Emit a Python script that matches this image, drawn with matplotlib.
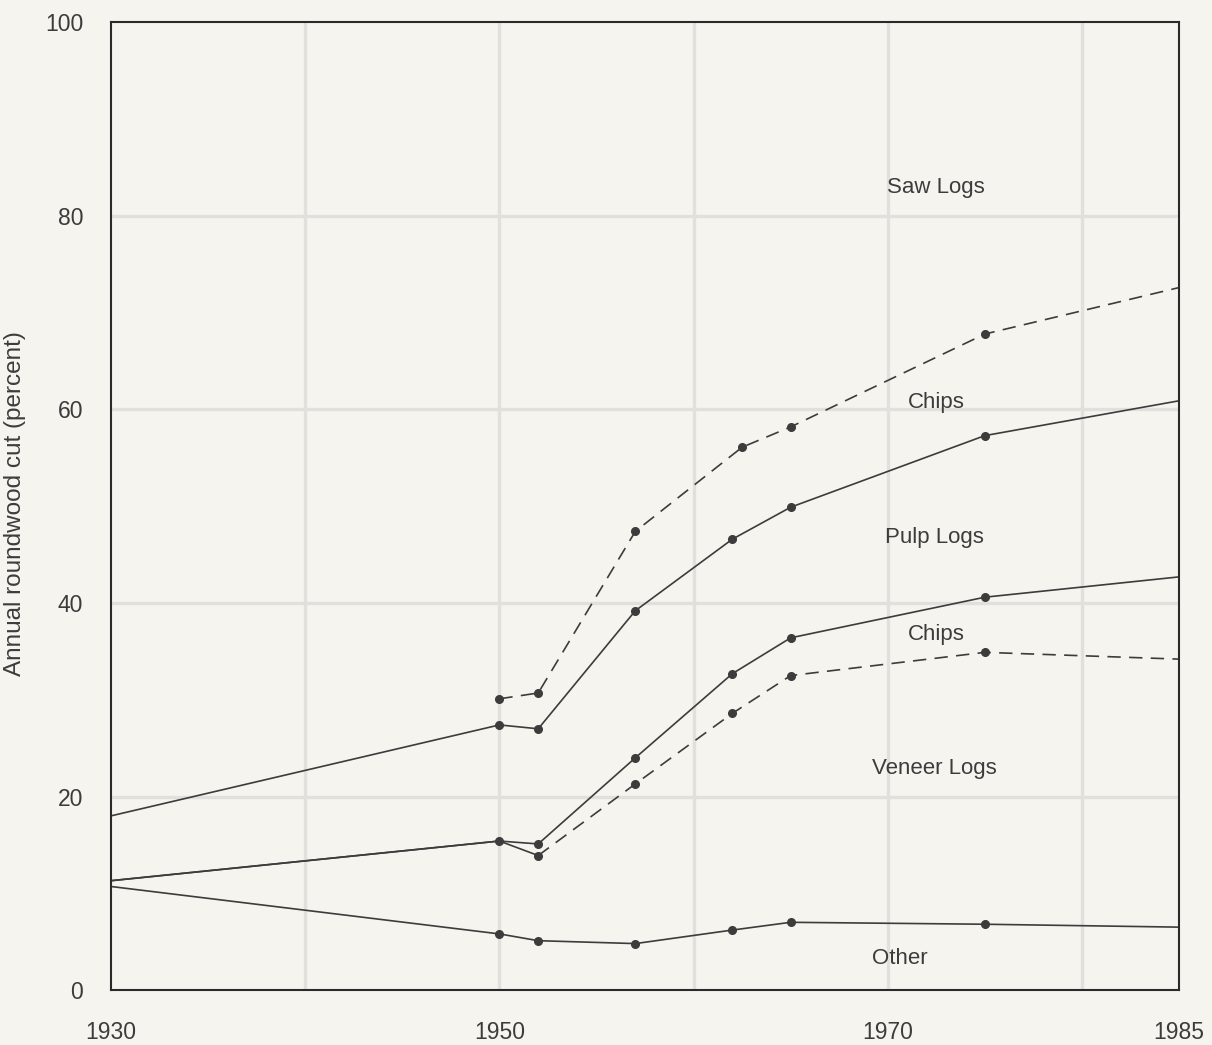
import matplotlib
matplotlib.use("Agg")
import matplotlib.pyplot as plt

# boundaries between the stacked shares (percent of annual roundwood cut)
years = [1930, 1950, 1952, 1957, 1962, 1965, 1975, 1985]
other_top = [10.7, 5.8, 5.1, 4.8, 6.2, 7.0, 6.8, 6.5]
veneer_top = [11.3, 15.4, 13.9, 21.3, 28.6, 32.5, 34.9, 34.2]
chips_low_top = [11.3, 15.4, 15.1, 24.0, 32.7, 36.4, 40.6, 42.7]
pulp_top = [18.0, 27.4, 27.0, 39.2, 46.6, 49.9, 57.3, 60.9]

years_saw = [1950, 1952, 1957, 1962.5, 1965, 1975, 1985]
chips_up_top = [30.1, 30.7, 47.4, 56.1, 58.2, 67.8, 72.6]

labels = ["Saw Logs", "Chips", "Pulp Logs", "Chips", "Veneer Logs", "Other"]
label_x = [1972.5, 1972.5, 1972.4, 1972.5, 1972.4, 1970.6]
label_y = [82.9, 60.7, 46.8, 36.7, 22.9, 3.3]

xtick_vals = [1930, 1950, 1970, 1985]
ytick_vals = [0, 20, 40, 60, 80, 100]

plt.rcParams['font.family'] = ['Liberation Sans', 'DejaVu Sans']
bg = '#f6f4ef'
ink = '#3c3c3c'

fig = plt.figure(figsize=(12.12, 10.45), dpi=100, facecolor=bg)
ax = fig.add_axes([0.0916, 0.0526, 0.8812, 0.9259], facecolor=bg)

for xv in [1940, 1950, 1960, 1970, 1980]:
    ax.axvline(xv, color='#e2e0dc', lw=2.4, zorder=0)
for yv in [20, 40, 60, 80]:
    ax.axhline(yv, color='#e2e0dc', lw=2.4, zorder=0)

line_kw = dict(color=ink, lw=1.2, marker='o', markersize=5.5)
mid = list(range(1, len(years) - 1))

ax.plot(years, other_top, markevery=mid, **line_kw)
ax.plot(years, chips_low_top, markevery=mid, **line_kw)
ax.plot(years, pulp_top, markevery=mid, **line_kw)

# veneer/chips boundary: solid up to 1952, dashed after
ax.plot(years[:3], veneer_top[:3], color=ink, lw=1.2)
ln, = ax.plot(years[2:], veneer_top[2:], markevery=list(range(0, 5)), **line_kw)
ln.set_dashes([8, 5])

ln2, = ax.plot(years_saw, chips_up_top, markevery=list(range(0, 6)), **line_kw)
ln2.set_dashes([8, 5])

for t, lx, ly in zip(labels, label_x, label_y):
    ax.text(lx, ly, t, ha='center', va='center', fontsize=16, color=ink)

ax.set_xlim(1930, 1985)
ax.set_ylim(0, 100)
ax.set_xticks(xtick_vals)
ax.set_yticks(ytick_vals)
ax.tick_params(length=0, labelsize=16.5, colors=ink)
ax.tick_params(axis='x', pad=22)
ax.tick_params(axis='y', pad=20)
ax.set_ylabel("Annual roundwood cut (percent)", fontsize=17.5, color=ink)
ax.yaxis.set_label_coords(-0.080, 0.503)
for s in ax.spines.values():
    s.set_color('#2a2a2a')
    s.set_linewidth(1.5)

fig.savefig("out.png", dpi=100, facecolor=bg)
